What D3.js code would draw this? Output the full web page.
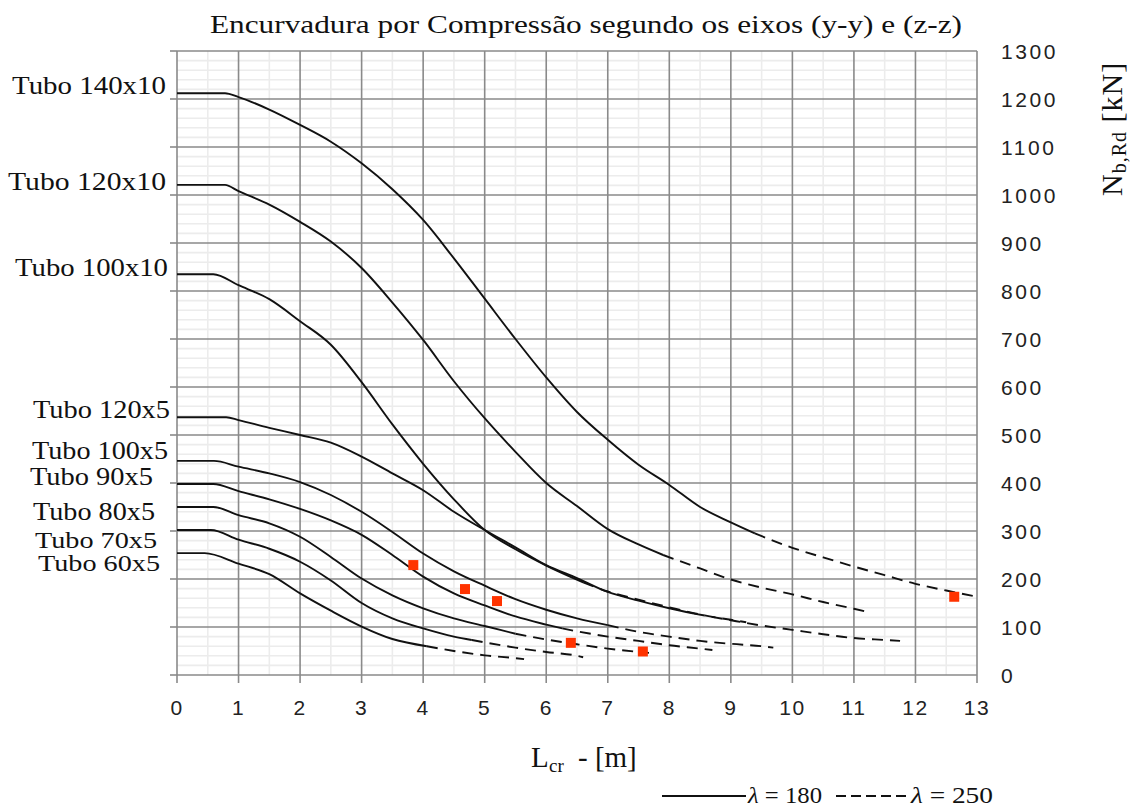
<!DOCTYPE html>
<html><head><meta charset="utf-8">
<script src="https://cdn.jsdelivr.net/npm/d3@7"></script>
<style>body{margin:0;background:#fff} svg{display:block}</style>
</head><body>
<svg id="chart" width="1132" height="807"></svg>
<script>
// ---------- DATA ----------
const tubeNames = ["Tubo 140x10","Tubo 120x10","Tubo 100x10","Tubo 120x5","Tubo 100x5","Tubo 90x5","Tubo 80x5","Tubo 70x5","Tubo 60x5"];

// Lcr [m] / Nb,Rd [kN] pairs per tube
const curve140x10 = [[0,1212],[0.78,1212],[1,1204],[1.5,1178],[2,1146],[2.5,1111],[3,1066],[3.5,1012],[4,948],[4.5,868],[5,784],[5.5,700],[6,620],[6.5,548],[7,490],[7.5,438],[8,396],[8.5,350],[9,318],[9.39,295],[10,265],[10.5,245],[11,226],[11.5,208],[12,190],[12.5,176],[13,163]];
const curve120x10 = [[0,1021],[0.78,1021],[1,1008],[1.5,980],[2,944],[2.5,903],[3,848],[3.5,776],[4,698],[4.5,612],[5,535],[5.5,465],[6,400],[6.5,352],[7,304],[7.5,272],[7.9,250],[8.5,222],[9,199],[9.5,182],[10,168],[10.5,152],[11,138],[11.2,132]];
const curve100x10 = [[0,835],[0.59,835],[1,812],[1.5,783],[2,737],[2.5,688],[3,610],[3.5,522],[4,440],[4.5,366],[5,302],[5.5,262],[6,228],[6.6,193],[7,174],[7.5,157],[8,141],[8.5,126],[9,115],[9.25,110]];
const curve120x5 = [[0,537],[0.8,537],[1,531],[1.5,515],[2,500],[2.5,484],[3,455],[3.5,420],[4,385],[4.5,340],[5,302],[5.5,266],[6,229],[6.5,202],[7,173],[7.5,155],[8,139],[8.4,128],[9,114],[9.5,103],[10,94],[10.5,85],[11,77],[11.5,73],[11.75,71]];
const curve100x5 = [[0,446],[0.6,446],[1,434],[1.5,420],[2,402],[2.5,375],[3,340],[3.5,298],[4,253],[4.5,216],[5,186],[5.5,158],[6,136],[6.5,118],[7,104],[7.5,90],[8,80],[8.5,71],[9,65],[9.5,60],[9.69,57]];
const curve90x5 = [[0,398],[0.59,398],[1,383],[1.5,366],[2,346],[2.5,322],[3,292],[3.5,250],[4,205],[4.5,170],[5,145],[5.5,122],[6,105],[6.26,97],[6.5,91],[7,80],[7.5,71],[8,62],[8.5,55],[8.7,52]];
const curve80x5 = [[0,350],[0.59,350],[1,333],[1.5,316],[2,288],[2.5,246],[3,201],[3.5,166],[4,139],[4.5,118],[5,102],[5.5,86],[6,74],[6.5,64],[7,55],[7.5,48],[7.67,46]];
const curve70x5 = [[0,302],[0.55,302],[1,282],[1.5,263],[2,236],[2.5,197],[3,150],[3.5,118],[4,97],[4.5,80],[4.79,73],[5,68],[5.5,57],[6,48],[6.5,40],[6.6,37]];
const curve60x5 = [[0,254],[0.45,254],[1,232],[1.5,210],[2,170],[2.5,134],[3,101],[3.5,75],[4.06,60],[4.5,50],[5,41],[5.5,35],[5.64,33]];
const curves = [curve140x10,curve120x10,curve100x10,curve120x5,curve100x5,curve90x5,curve80x5,curve70x5,curve60x5];

// length where lambda = 180 is reached (solid -> dashed)
const lambda180Length = [9.39, 7.9, 6.6, 8.4, 7.0, 6.26, 5.5, 4.79, 4.06];

// red marker points [Lcr, N]
const markerL = [3.84, 4.68, 5.2, 6.4, 7.57, 12.63];
const markerN = [229, 179, 154, 67, 49, 163];

const xTicks = d3.range(0, 14, 1);
const yTicks = d3.range(0, 1301, 100);

// ---------- LAYOUT ----------
const svg = d3.select("#chart");
const x = d3.scaleLinear().domain([0, 13]).range([177, 977]);
const y = d3.scaleLinear().domain([0, 1300]).range([675, 51]);

const majorCol = "#8a8a8a", minorCol = "#ececec";

const g = svg.append("g");
g.selectAll(".vmin").data(d3.range(0.5, 13, 1)).join("line")
  .attr("x1", d => x(d)).attr("x2", d => x(d)).attr("y1", y(0)).attr("y2", y(1300))
  .attr("stroke", minorCol).attr("stroke-width", 1.6);
g.selectAll(".hmin").data(d3.range(20, 1300, 20).filter(v => v % 100 !== 0)).join("line")
  .attr("x1", x(0)).attr("x2", x(13)).attr("y1", d => y(d)).attr("y2", d => y(d))
  .attr("stroke", minorCol).attr("stroke-width", 1.6);
g.selectAll(".vmaj").data(xTicks).join("line")
  .attr("x1", d => x(d)).attr("x2", d => x(d)).attr("y1", y(0)).attr("y2", y(1300))
  .attr("stroke", majorCol).attr("stroke-width", 1.6);
g.selectAll(".hmaj").data(yTicks).join("line")
  .attr("x1", x(0)).attr("x2", x(13)).attr("y1", d => y(d)).attr("y2", d => y(d))
  .attr("stroke", majorCol).attr("stroke-width", 1.6);
g.selectAll(".lt").data(yTicks).join("line")
  .attr("x1", x(0) - 7).attr("x2", x(0)).attr("y1", d => y(d)).attr("y2", d => y(d))
  .attr("stroke", majorCol).attr("stroke-width", 1.6);
g.selectAll(".bt").data(xTicks).join("line")
  .attr("x1", d => x(d)).attr("x2", d => x(d)).attr("y1", y(0)).attr("y2", y(0) + 8)
  .attr("stroke", majorCol).attr("stroke-width", 1.6);

// tick labels
const sans = "'Liberation Sans', Arial, sans-serif";
svg.append("g").selectAll("text").data(xTicks).join("text")
  .attr("x", d => x(d)).attr("y", 715).attr("text-anchor", "middle")
  .attr("font-family", sans).attr("font-size", 21).attr("letter-spacing", 1.5).attr("fill", "#222")
  .text(d => d);
svg.append("g").selectAll("text").data(yTicks).join("text")
  .attr("x", 1001).attr("y", d => y(d) + 8)
  .attr("font-family", sans).attr("font-size", 21).attr("letter-spacing", 2.6).attr("fill", "#222")
  .text(d => d);

// curves
const line = d3.line().x(d => x(d[0])).y(d => y(d[1])).curve(d3.curveMonotoneX);
const cg = svg.append("g");
curves.forEach((c, i) => {
  const split = lambda180Length[i];
  const solid = c.filter(p => p[0] <= split + 1e-9);
  const dashed = c.filter(p => p[0] >= split - 1e-9);
  cg.append("path").attr("d", line(solid)).attr("fill", "none")
    .attr("stroke", "#111").attr("stroke-width", 1.9);
  cg.append("path").attr("d", line(dashed)).attr("fill", "none")
    .attr("stroke", "#111").attr("stroke-width", 1.9).attr("stroke-dasharray", "11,7");
});

// markers
svg.append("g").selectAll("rect").data(markerL).join("rect")
  .attr("x", d => x(d) - 5).attr("y", (d, i) => y(markerN[i]) - 5)
  .attr("width", 10).attr("height", 10).attr("fill", "#ff3300");

// tube labels
const serif = "'Liberation Serif', 'Times New Roman', serif";
const labelRight = [166, 166, 168, 170, 168, 153, 155, 157, 160];
const labelWidth = [154, 158, 153, 137, 136, 123, 122, 122, 122];
const labelDy = [1, 5, 2, 1, -2, 1, 13, 18, 18];
const labelSize = [25, 25, 25, 25, 25, 25, 25, 23, 23];
svg.append("g").selectAll("text").data(tubeNames).join("text")
  .attr("x", (d, i) => labelRight[i] - labelWidth[i]).attr("y", (d, i) => y(curves[i][0][1]) + labelDy[i])
  .attr("font-family", serif).attr("font-size", (d, i) => labelSize[i]).attr("fill", "#111")
  .attr("textLength", (d, i) => labelWidth[i]).attr("lengthAdjust", "spacingAndGlyphs")
  .text(d => d);

// title
svg.append("text").attr("x", 210).attr("y", 33)
  .attr("font-family", serif).attr("font-size", 26).attr("fill", "#111")
  .attr("textLength", 752).attr("lengthAdjust", "spacingAndGlyphs")
  .text("Encurvadura por Compressão segundo os eixos (y-y) e (z-z)");

// x title
const xt = svg.append("text").attr("y", 767)
  .attr("font-family", serif).attr("font-size", 29).attr("fill", "#111");
xt.append("tspan").attr("x", 531).text("L");
xt.append("tspan").attr("x", 549).attr("dy", 5).attr("font-size", 19).text("cr");
xt.append("tspan").attr("x", 578).attr("dy", -5).text("- [m]");

// y title
const yt = svg.append("text").attr("transform", "translate(1122,196) rotate(-90)")
  .attr("font-family", serif).attr("font-size", 30).attr("letter-spacing", 1).attr("fill", "#111");
yt.append("tspan").text("N");
yt.append("tspan").attr("dy", 4).attr("font-size", 20).text("b,Rd");
yt.append("tspan").attr("dy", -4).text(" [kN]");

// legend
const lg = svg.append("g");
lg.append("line").attr("x1", 662).attr("x2", 746).attr("y1", 796).attr("y2", 796)
  .attr("stroke", "#111").attr("stroke-width", 1.8);
lg.append("text").attr("x", 748).attr("y", 803).attr("font-family", serif)
  .attr("font-size", 24).attr("fill", "#111").attr("textLength", 74).attr("lengthAdjust", "spacingAndGlyphs")
  .html("<tspan font-style='italic'>λ</tspan> = 180");
lg.append("line").attr("x1", 836).attr("x2", 906).attr("y1", 796).attr("y2", 796)
  .attr("stroke", "#111").attr("stroke-width", 1.8).attr("stroke-dasharray", "10,5");
lg.append("text").attr("x", 911).attr("y", 803).attr("font-family", serif)
  .attr("font-size", 24).attr("fill", "#111").attr("textLength", 82).attr("lengthAdjust", "spacingAndGlyphs")
  .html("<tspan font-style='italic'>λ</tspan> = 250");
</script>
</body></html>
